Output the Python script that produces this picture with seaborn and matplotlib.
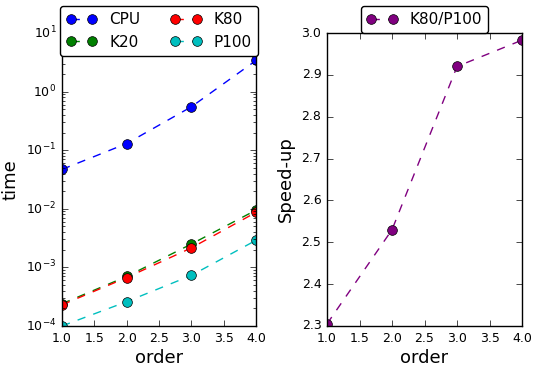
import matplotlib
matplotlib.use("Agg")
import matplotlib.pyplot as plt
import seaborn as sns

plt.style.use("classic")

order = [1, 2, 3, 4]
cpu = [0.047, 0.13, 0.55, 3.4]
k20 = [2.4e-4, 7.0e-4, 2.5e-3, 9.5e-3]
k80 = [2.3e-4, 6.7e-4, 2.15e-3, 8.7e-3]
p100 = [1.0e-4, 2.6e-4, 7.3e-4, 2.9e-3]
speedup = [2.305, 2.53, 2.92, 2.983]

series = [("CPU", cpu, "b"), ("K20", k20, "g"), ("K80", k80, "r"), ("P100", p100, "c")]

fig = plt.figure(figsize=(5.33, 3.66), dpi=100, facecolor="white")
ax1 = fig.add_axes([0.1163, 0.1093, 0.364, 0.8005])
ax2 = fig.add_axes([0.6135, 0.1093, 0.366, 0.8005])

for name, vals, c in series:
    sns.lineplot(x=order, y=vals, ax=ax1, color=c, label=name, marker="o",
                 linestyle="--", markersize=7, markeredgecolor="k",
                 markeredgewidth=0.5)
ax1.set_yscale("log")
ax1.set_ylim(1e-4, 1e1)
ax1.set_xlim(1, 4)
ax1.set_xlabel("order", fontsize=13, labelpad=3)
ax1.set_ylabel("time", fontsize=13)
ax1.legend(ncol=2, loc="upper center", bbox_to_anchor=(0.5, 1.092),
           numpoints=2, fontsize=11, fancybox=True, borderaxespad=0.)

sns.lineplot(x=order, y=speedup, ax=ax2, color="purple", label="K80/P100",
             marker="o", linestyle="--", markersize=7, markeredgecolor="k",
             markeredgewidth=0.5)
ax2.set_xlim(1, 4)
ax2.set_ylim(2.3, 3.0)
ax2.set_xlabel("order", fontsize=13, labelpad=3)
ax2.set_ylabel("Speed-up", fontsize=13)
ax2.legend(loc="upper center", bbox_to_anchor=(0.5, 1.092), numpoints=2,
           fontsize=11, fancybox=True, borderaxespad=0.)

for ax in (ax1, ax2):
    ax.tick_params(labelsize=9)

fig.savefig("out.png", dpi=100, facecolor="white")
